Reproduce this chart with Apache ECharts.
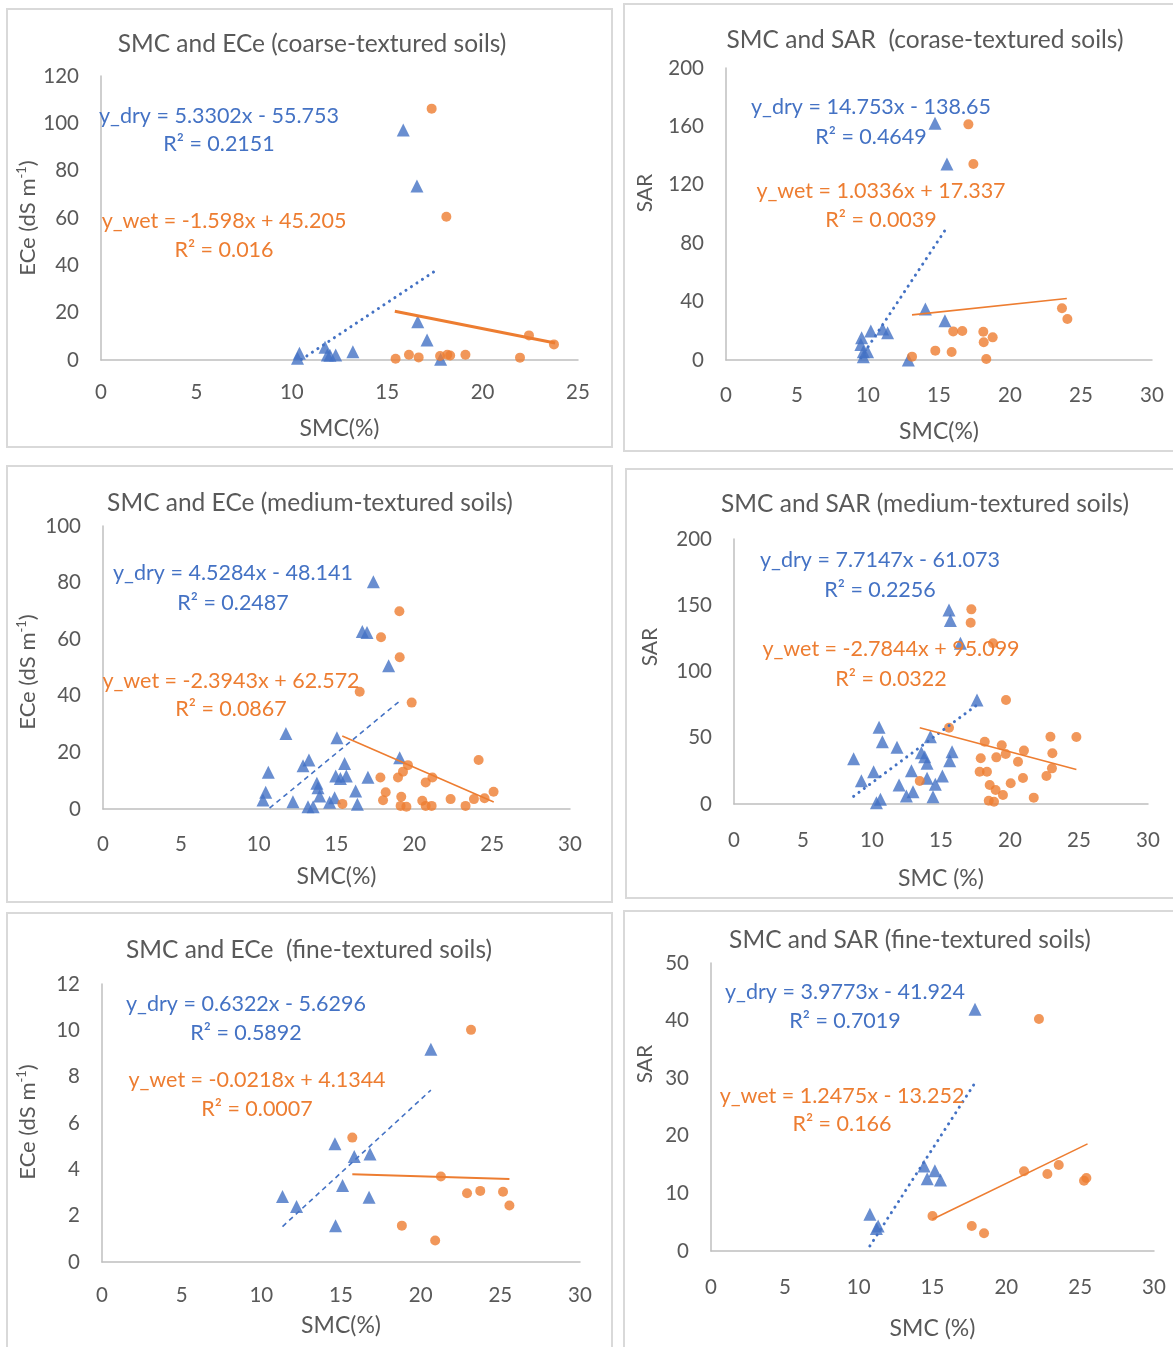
<!DOCTYPE html>
<html>
<head>
<meta charset="utf-8">
<title>SMC vs ECe and SAR</title>
<script src="https://cdn.jsdelivr.net/npm/echarts@6/dist/echarts.min.js"></script>
<style>
  html, body { margin: 0; padding: 0; background: #fff; }
  #chart { width: 1173px; height: 1347px; }
</style>
</head>
<body>
<div id="chart"></div>
<script>
// ---- coarse-textured soils, ECe ----
const coarseEceDryX = [15.84, 16.56, 16.6, 17.09, 17.8, 10.4, 10.3, 11.74, 11.86, 12.0, 12.3, 13.2]
const coarseEceDryY = [97.2, 73.5, 16.2, 8.4, 0.3, 2.8, 0.7, 5.4, 2.1, 2.0, 2.1, 3.5]
const coarseEceWetX = [17.33, 18.1, 15.44, 16.14, 16.65, 17.77, 18.15, 18.3, 19.1, 21.96, 22.43, 23.74]
const coarseEceWetY = [106.2, 60.5, 0.5, 2.2, 1.1, 1.7, 2.2, 1.9, 2.2, 1.0, 10.4, 6.6]
const coarseEceDryTrend = [[10.5, 0.2], [17.6, 38.1]]
const coarseEceWetTrend = [[15.4, 20.6], [23.8, 7.2]]

// ---- coarse-textured soils, SAR ----
const coarseSarDryX = [14.72, 15.56, 14.04, 15.42, 9.55, 9.5, 10.2, 11.03, 11.38, 9.67, 9.97, 9.67, 12.84]
const coarseSarDryY = [162.1, 134.2, 34.9, 26.9, 15.3, 10.7, 19.9, 21.2, 18.7, 5.7, 5.7, 2.3, 0]
const coarseSarWetX = [17.07, 17.42, 23.66, 24.04, 16.0, 16.64, 18.12, 18.78, 18.15, 13.1, 14.74, 15.89, 18.33]
const coarseSarWetY = [161.4, 134.2, 35.4, 28.1, 19.6, 19.9, 19.4, 15.5, 12.1, 2.3, 6.4, 5.5, 0.7]
const coarseSarDryTrend = [[9.5, 1.5], [15.4, 88.5]]
const coarseSarWetTrend = [[13.1, 30.9], [24.0, 42.1]]

// ---- medium-textured soils, ECe ----
const mediumEceDryX = [17.37, 16.66, 16.96, 18.35, 11.75, 15.03, 19.06, 10.62, 13.23, 12.85, 15.52, 14.95, 15.25, 15.63, 17.02, 13.74, 13.81, 13.92, 10.45, 10.28, 12.2, 13.17, 13.5, 14.56, 14.88, 16.23, 16.34]
const mediumEceDryY = [80.3, 62.7, 62.4, 50.6, 26.7, 25.2, 18.1, 13.0, 17.3, 15.3, 16.1, 11.7, 10.8, 11.7, 11.2, 9.1, 7.5, 4.6, 5.9, 3.2, 2.6, 0.8, 0.8, 2.4, 4.0, 6.4, 1.7]
const mediumEceWetX = [19.04, 17.86, 19.06, 16.49, 19.83, 24.13, 19.59, 19.27, 18.95, 17.82, 21.16, 20.73, 18.16, 17.99, 19.16, 19.12, 19.49, 20.51, 20.73, 21.11, 22.33, 23.29, 23.83, 24.51, 25.09, 15.38]
const mediumEceWetY = [69.9, 60.7, 53.6, 41.4, 37.6, 17.3, 15.5, 13.2, 11.1, 11.1, 11.1, 9.4, 5.9, 3.1, 4.3, 1.1, 0.8, 2.9, 1.1, 1.1, 3.5, 1.1, 3.5, 3.8, 6.1, 1.8]
const mediumEceDryTrend = [[10.7, 0.3], [19.05, 38.1]]
const mediumEceWetTrend = [[15.37, 25.8], [25.1, 2.5]]

// ---- medium-textured soils, SAR ----
const mediumSarDryX = [15.58, 15.68, 16.41, 17.61, 10.51, 10.75, 11.81, 8.67, 14.23, 13.58, 13.82, 13.99, 15.8, 15.63, 10.12, 9.23, 12.86, 11.96, 13.99, 14.59, 15.1, 12.97, 12.49, 14.42, 10.32, 10.61]
const mediumSarDryY = [146.4, 138.4, 121.3, 78.5, 57.9, 47.0, 42.8, 34.2, 50.8, 38.7, 35.7, 30.7, 39.5, 32.7, 24.4, 17.6, 25.1, 14.3, 19.4, 14.9, 21.1, 9.3, 6.0, 5.5, 1.0, 3.5]
const mediumSarWetX = [17.2, 17.15, 18.77, 19.71, 15.58, 22.93, 24.81, 18.17, 19.4, 21.01, 23.07, 19.69, 19.01, 17.88, 20.58, 23.04, 17.8, 18.33, 22.64, 20.94, 13.46, 20.05, 18.53, 18.96, 19.49, 21.72, 18.46, 18.84]
const mediumSarWetY = [146.9, 136.8, 121.3, 78.5, 57.6, 50.8, 50.6, 47.0, 44.3, 40.3, 38.3, 37.7, 35.2, 34.5, 31.9, 26.9, 24.4, 24.4, 21.1, 19.6, 17.4, 15.6, 14.3, 10.6, 6.8, 4.8, 2.5, 1.7]
const mediumSarDryTrend = [[8.67, 5.8], [17.61, 74.8]]
const mediumSarWetTrend = [[13.46, 57.6], [24.81, 26.0]]

// ---- fine-textured soils, ECe ----
const fineEceDryX = [20.64, 14.62, 15.83, 16.82, 15.1, 11.33, 16.76, 12.21, 14.66]
const fineEceDryY = [9.18, 5.1, 4.55, 4.66, 3.3, 2.83, 2.8, 2.4, 1.57]
const fineEceWetX = [23.16, 15.71, 21.27, 22.91, 23.74, 25.17, 25.57, 18.82, 20.91]
const fineEceWetY = [10.02, 5.37, 3.69, 2.97, 3.07, 3.03, 2.44, 1.57, 0.93]
const fineEceDryTrend = [[11.33, 1.53], [20.64, 7.42]]
const fineEceWetTrend = [[15.71, 3.79], [25.57, 3.58]]

// ---- fine-textured soils, SAR ----
const fineSarDryX = [17.88, 14.43, 15.16, 14.64, 15.54, 10.76, 11.32, 11.2]
const fineSarDryY = [41.96, 14.76, 13.94, 12.55, 12.33, 6.37, 4.34, 3.9]
const fineSarWetX = [22.21, 21.2, 23.55, 22.78, 25.42, 25.26, 15.0, 17.66, 18.49]
const fineSarWetY = [40.28, 13.84, 14.93, 13.37, 12.67, 12.2, 6.08, 4.34, 3.07]
const fineSarDryTrend = [[10.76, 0.87], [17.88, 29.2]]
const fineSarWetTrend = [[15.0, 5.5], [25.5, 18.6]]

const BLUE = '#4472C4'
const ORANGE = '#ED7D31'
const GREY = '#595959'
const FONT = 'Lato, "Open Sans", sans-serif'

const ECE_NAME = '{n|ECe (dS m}{s|-1}{n|)}'
const DOTS = { type: [0.1, 6.5], cap: 'round', width: 3 }
const DASH = { type: [5, 4], width: 1.6 }

const panels = [
  {
    title: 'SMC and ECe (coarse-textured soils)', titlePos: [312, 32],
    box: [7, 9, 605, 438], grid: [101, 76, 477, 284],
    xMax: 25, yMax: 120, yStep: 20, xName: 'SMC(%)', xNameGap: 57, tickGap: 22,
    yName: ECE_NAME, yNamePos: [28, 218],
    dryX: coarseEceDryX, dryY: coarseEceDryY, wetX: coarseEceWetX, wetY: coarseEceWetY,
    dryTrend: coarseEceDryTrend, wetTrend: coarseEceWetTrend, dryLine: DOTS, wetWidth: 3.2,
    dryEq: ['y_dry = 5.3302x - 55.753', 'R² = 0.2151'], dryEqPos: [219, 116, 144],
    wetEq: ['y_wet = -1.598x + 45.205', 'R² = 0.016'], wetEqPos: [224, 221, 250]
  },
  {
    title: 'SMC and SAR  (corase-textured soils)', titlePos: [925, 28],
    box: [624, 4, 560, 447], grid: [726, 68, 426, 292],
    xMax: 30, yMax: 200, yStep: 40, xName: 'SMC(%)', xNameGap: 60, tickGap: 25,
    yName: 'SAR', yNamePos: [645, 193],
    dryX: coarseSarDryX, dryY: coarseSarDryY, wetX: coarseSarWetX, wetY: coarseSarWetY,
    dryTrend: coarseSarDryTrend, wetTrend: coarseSarWetTrend, dryLine: DOTS, wetWidth: 1.6,
    dryEq: ['y_dry = 14.753x - 138.65', 'R² = 0.4649'], dryEqPos: [871, 107, 137],
    wetEq: ['y_wet = 1.0336x + 17.337', 'R² = 0.0039'], wetEqPos: [881, 191, 220]
  },
  {
    title: 'SMC and ECe (medium-textured soils)', titlePos: [310, 491],
    box: [7, 466, 605, 436], grid: [103, 526, 467, 283],
    xMax: 30, yMax: 100, yStep: 20, xName: 'SMC(%)', xNameGap: 56, tickGap: 25,
    yName: ECE_NAME, yNamePos: [28, 672],
    dryX: mediumEceDryX, dryY: mediumEceDryY, wetX: mediumEceWetX, wetY: mediumEceWetY,
    dryTrend: mediumEceDryTrend, wetTrend: mediumEceWetTrend, dryLine: DASH, wetWidth: 1.6,
    dryEq: ['y_dry = 4.5284x - 48.141', 'R² = 0.2487'], dryEqPos: [233, 573, 603],
    wetEq: ['y_wet = -2.3943x + 62.572', 'R² = 0.0867'], wetEqPos: [231, 681, 709]
  },
  {
    title: 'SMC and SAR (medium-textured soils)', titlePos: [925, 492],
    box: [626, 469, 560, 429], grid: [734, 539, 414, 265],
    xMax: 30, yMax: 200, yStep: 50, xName: 'SMC (%)', xNameGap: 63, tickGap: 26,
    yName: 'SAR', yNamePos: [650, 647],
    dryX: mediumSarDryX, dryY: mediumSarDryY, wetX: mediumSarWetX, wetY: mediumSarWetY,
    dryTrend: mediumSarDryTrend, wetTrend: mediumSarWetTrend, dryLine: DOTS, wetWidth: 1.6,
    dryEq: ['y_dry = 7.7147x - 61.073', 'R² = 0.2256'], dryEqPos: [880, 560, 590],
    wetEq: ['y_wet = -2.7844x + 95.099', 'R² = 0.0322'], wetEqPos: [891, 649, 679]
  },
  {
    title: 'SMC and ECe  (fine-textured soils)', titlePos: [309, 938],
    box: [7, 913, 605, 450], grid: [102, 984, 478, 278],
    xMax: 30, yMax: 12, yStep: 2, xName: 'SMC(%)', xNameGap: 52, tickGap: 23,
    yName: ECE_NAME, yNamePos: [28, 1122],
    dryX: fineEceDryX, dryY: fineEceDryY, wetX: fineEceWetX, wetY: fineEceWetY,
    dryTrend: fineEceDryTrend, wetTrend: fineEceWetTrend, dryLine: DASH, wetWidth: 2,
    dryEq: ['y_dry = 0.6322x - 5.6296', 'R² = 0.5892'], dryEqPos: [246, 1004, 1033],
    wetEq: ['y_wet = -0.0218x + 4.1344', 'R² = 0.0007'], wetEqPos: [257, 1080, 1109]
  },
  {
    title: 'SMC and SAR (fine-textured soils)', titlePos: [910, 928],
    box: [624, 911, 560, 450], grid: [711, 963, 443, 288],
    xMax: 30, yMax: 50, yStep: 10, xName: 'SMC (%)', xNameGap: 66, tickGap: 26,
    yName: 'SAR', yNamePos: [645, 1064],
    dryX: fineSarDryX, dryY: fineSarDryY, wetX: fineSarWetX, wetY: fineSarWetY,
    dryTrend: fineSarDryTrend, wetTrend: fineSarWetTrend, dryLine: DOTS, wetWidth: 1.6,
    dryEq: ['y_dry = 3.9773x - 41.924', 'R² = 0.7019'], dryEqPos: [845, 992, 1021],
    wetEq: ['y_wet = 1.2475x - 13.252', 'R² = 0.166'], wetEqPos: [842, 1096, 1124]
  }
]

function pairs (xs, ys) {
  return xs.map((x, i) => [x, ys[i]])
}

function label (text, x, y, color) {
  return {
    type: 'text', x: x, y: y, z: 50,
    style: { text: text, fill: color, fontSize: 21.5, fontFamily: FONT, align: 'center', verticalAlign: 'middle' }
  }
}

const option = {
  backgroundColor: '#fff',
  animation: false,
  title: [],
  grid: [],
  xAxis: [],
  yAxis: [],
  series: [],
  graphic: []
}

panels.forEach((p, i) => {
  option.graphic.push({
    type: 'rect', z: 0,
    shape: { x: p.box[0], y: p.box[1], width: p.box[2], height: p.box[3] },
    style: { fill: 'none', stroke: '#D9D9D9', lineWidth: 2 }
  })
  option.title.push({
    text: p.title, left: p.titlePos[0], top: p.titlePos[1], textAlign: 'center', padding: 0,
    textStyle: { color: GREY, fontSize: 24.5, fontWeight: 'normal', fontFamily: FONT }
  })
  option.grid.push({ left: p.grid[0], top: p.grid[1], width: p.grid[2], height: p.grid[3] })
  option.xAxis.push({
    gridIndex: i, type: 'value', min: 0, max: p.xMax, interval: 5,
    name: p.xName, nameLocation: 'middle', nameGap: p.xNameGap,
    nameTextStyle: { color: GREY, fontSize: 23, fontFamily: FONT },
    axisLine: { show: true, lineStyle: { color: '#BFBFBF', width: 1.5 } },
    axisTick: { show: false },
    splitLine: { show: false },
    axisLabel: { color: GREY, fontSize: 20.5, fontFamily: FONT, margin: p.tickGap }
  })
  option.yAxis.push({
    gridIndex: i, type: 'value', min: 0, max: p.yMax, interval: p.yStep,
    axisLine: { show: true, lineStyle: { color: '#BFBFBF', width: 1.5 } },
    axisTick: { show: false },
    splitLine: { show: false },
    axisLabel: { color: GREY, fontSize: 20.5, fontFamily: FONT, margin: 22 }
  })
  option.graphic.push({
    type: 'text', x: p.yNamePos[0], y: p.yNamePos[1], rotation: Math.PI / 2, z: 50,
    style: {
      text: p.yName, fill: GREY, fontSize: 21, fontFamily: FONT, align: 'center', verticalAlign: 'middle',
      rich: {
        n: { fontSize: 22, fontFamily: FONT, color: GREY, lineHeight: 26 },
        s: { fontSize: 13, fontFamily: FONT, color: GREY, verticalAlign: 'top', lineHeight: 26 }
      }
    }
  })
  option.series.push(
    {
      type: 'scatter', xAxisIndex: i, yAxisIndex: i, name: 'dry',
      symbol: 'triangle', symbolSize: 13, itemStyle: { color: BLUE },
      data: pairs(p.dryX, p.dryY)
    },
    {
      type: 'scatter', xAxisIndex: i, yAxisIndex: i, name: 'wet',
      symbol: 'circle', symbolSize: 10, itemStyle: { color: ORANGE },
      data: pairs(p.wetX, p.wetY)
    },
    {
      type: 'line', xAxisIndex: i, yAxisIndex: i, name: 'dry trend',
      showSymbol: false, silent: true,
      lineStyle: Object.assign({ color: BLUE }, p.dryLine),
      data: p.dryTrend
    },
    {
      type: 'line', xAxisIndex: i, yAxisIndex: i, name: 'wet trend',
      showSymbol: false, silent: true,
      lineStyle: { color: ORANGE, width: p.wetWidth },
      data: p.wetTrend
    }
  )
  option.graphic.push(
    label(p.dryEq[0], p.dryEqPos[0], p.dryEqPos[1], BLUE),
    label(p.dryEq[1], p.dryEqPos[0], p.dryEqPos[2], BLUE),
    label(p.wetEq[0], p.wetEqPos[0], p.wetEqPos[1], ORANGE),
    label(p.wetEq[1], p.wetEqPos[0], p.wetEqPos[2], ORANGE)
  )
})

const chart = echarts.init(document.getElementById('chart'))
chart.setOption(option)
window.addEventListener('resize', () => { chart.resize() })
</script>
</body>
</html>
